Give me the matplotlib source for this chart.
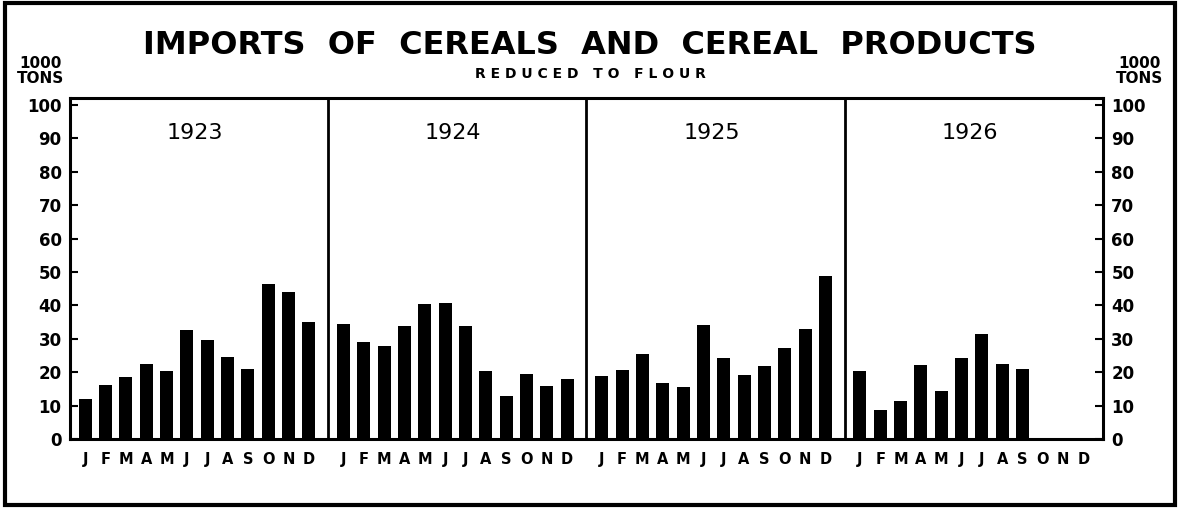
import matplotlib.pyplot as plt
from matplotlib.patches import Rectangle

years = ['1923', '1924', '1925', '1926']
months = ['J', 'F', 'M', 'A', 'M', 'J', 'J', 'A', 'S', 'O', 'N', 'D']

# thousand tons
imports_1923 = [12.0, 16.2, 18.6, 22.4, 20.4, 32.7, 29.7, 24.5, 20.9, 46.4, 43.9, 35.1]
imports_1924 = [34.4, 29.1, 27.8, 33.9, 40.5, 40.7, 33.7, 20.3, 12.9, 19.6, 15.9, 17.9]
imports_1925 = [18.8, 20.7, 25.4, 16.8, 15.5, 34.1, 24.3, 19.2, 21.7, 27.2, 33.0, 48.8]
imports_1926 = [20.5, 8.8, 11.5, 22.0, 14.5, 24.2, 31.3, 22.4, 21.0]
series = [imports_1923, imports_1924, imports_1925, imports_1926]

yticks = [0, 10, 20, 30, 40, 50, 60, 70, 80, 90, 100]

panel_w = 12.7
offset = 0.75

fig = plt.figure(figsize=(11.8, 5.08), dpi=100)
ax = fig.add_axes([0.0593, 0.1358, 0.8754, 0.671])

month_x = []
month_lab = []
for p, vals in enumerate(series):
    xs = [p * panel_w + offset + j for j in range(len(vals))]
    ax.bar(xs, vals, width=0.64, color='black', edgecolor='none')
    for j, m in enumerate(months):
        month_x.append(p * panel_w + offset + j)
        month_lab.append(m)
    ax.text(p * panel_w + panel_w / 2 - 0.2, 91.5, years[p], ha='center', va='center',
            fontsize=16, fontweight='medium')
    if p > 0:
        ax.axvline(p * panel_w, color='black', lw=2)

ax.set_xlim(0, 4 * panel_w)
ax.set_ylim(0, 102)
ax.set_xticks(month_x)
ax.set_xticklabels(month_lab, fontsize=10.5, fontweight='bold')
ax.tick_params(axis='x', length=0, pad=9)
ax.set_yticks(yticks)
ax.set_yticklabels([str(v) for v in yticks], fontsize=12, fontweight='bold')
ax.tick_params(axis='y', direction='in', length=6, width=1.5, right=True,
               labelright=True, pad=6)
for s in ax.spines.values():
    s.set_linewidth(2.2)

fig.text(0.5, 0.91, 'IMPORTS  OF  CEREALS  AND  CEREAL  PRODUCTS', ha='center',
         va='center', fontsize=23, fontweight='bold')
fig.text(0.5, 0.855, 'R E D U C E D   T O   F L O U R', ha='center', va='center',
         fontsize=10, fontweight='bold')
fig.text(0.034, 0.86, '1000\nTONS', ha='center', va='center', fontsize=11,
         fontweight='bold', linespacing=1.0)
fig.text(0.966, 0.86, '1000\nTONS', ha='center', va='center', fontsize=11,
         fontweight='bold', linespacing=1.0)

fig.patches.append(Rectangle((0.004, 0.006), 0.992, 0.988, transform=fig.transFigure,
                             fill=False, edgecolor='black', lw=3))

fig.savefig('out.png', dpi=100)
